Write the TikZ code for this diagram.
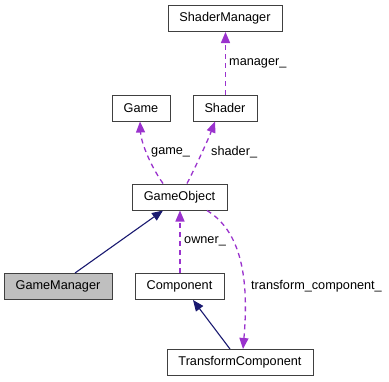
\documentclass[tikz,border=0pt]{standalone}
\usepackage{fontspec}
\setmainfont{Liberation Sans}
\usetikzlibrary{arrows.meta,positioning}
\definecolor{dborder}{HTML}{404040}
\definecolor{dfocus}{HTML}{BFBFBF}
\definecolor{dmember}{HTML}{9A32CD}
\definecolor{dinherit}{HTML}{191970}
\tikzset{
  cls/.style={draw=dborder,fill=white,line width=1pt,inner sep=0pt,
    minimum height=26pt,font=\fontsize{12.7}{15}\selectfont},
  clsfocus/.style={cls,fill=dfocus},
  member/.style={-{Triangle[length=11pt,width=9pt]},dmember,line width=1.3pt,
    dash pattern=on 5pt off 4pt},
  inherit/.style={-{Triangle[length=11pt,width=9pt]},dinherit,line width=1.1pt},
  lbl/.style={anchor=west,inner sep=0pt,font=\fontsize{12.7}{15}\selectfont},
}
\begin{document}
\begin{tikzpicture}[x=1pt,y=-1pt]
  \useasboundingbox (0,0) rectangle (389,381);
  % classes
  \node[cls,minimum width=114pt] (ShaderManager) at (225,18.5) {ShaderManager};
  \node[cls,minimum width=58pt] (Game) at (141,108) {Game};
  \node[cls,minimum width=64pt] (Shader) at (225,108) {Shader};
  \node[cls,minimum width=95pt] (GameObject) at (179.5,197) {GameObject};
  \node[clsfocus,minimum width=108pt] (GameManager) at (58,286.5) {GameManager};
  \node[cls,minimum width=89pt] (Component) at (179.5,286.5) {Component};
  \node[cls,minimum width=146pt] (TransformComponent) at (240,362.5) {TransformComponent};
  % usage relations
  \draw[member] ([xshift=0.5pt]Shader.north) -- ([xshift=0.5pt]ShaderManager.south);
  \draw[member] ([xshift=-16.5pt]GameObject.north)
    .. controls (150,165) and (141,142) .. ([xshift=-1pt]Game.south);
  \draw[member] ([xshift=7.5pt]GameObject.north)
    .. controls (196,166) and (208,140) .. ([xshift=-10pt]Shader.south);
  \draw[member] ([xshift=0.5pt]Component.north) -- ([xshift=0.5pt]GameObject.south);
  \draw[member] ([xshift=27.5pt]GameObject.south)
    .. controls (242,232) and (249,280) .. ([xshift=3pt]TransformComponent.north);
  % inheritance
  \draw[inherit] ([xshift=17pt]GameManager.north) -- ([xshift=-16.5pt]GameObject.south);
  \draw[inherit] ([xshift=-10pt]TransformComponent.north) -- ([xshift=13.5pt]Component.south);
  % member names
  \node[lbl] (lmanager) at (229,63) {manager\_};
  \node[lbl] (lgame) at (151,152) {game\_};
  \node[lbl] (lshader) at (211,152) {shader\_};
  \node[lbl] (lowner) at (184,241) {owner\_};
  \node[lbl] (ltransform) at (251,286) {transform\_component\_};
\end{tikzpicture}
\end{document}
